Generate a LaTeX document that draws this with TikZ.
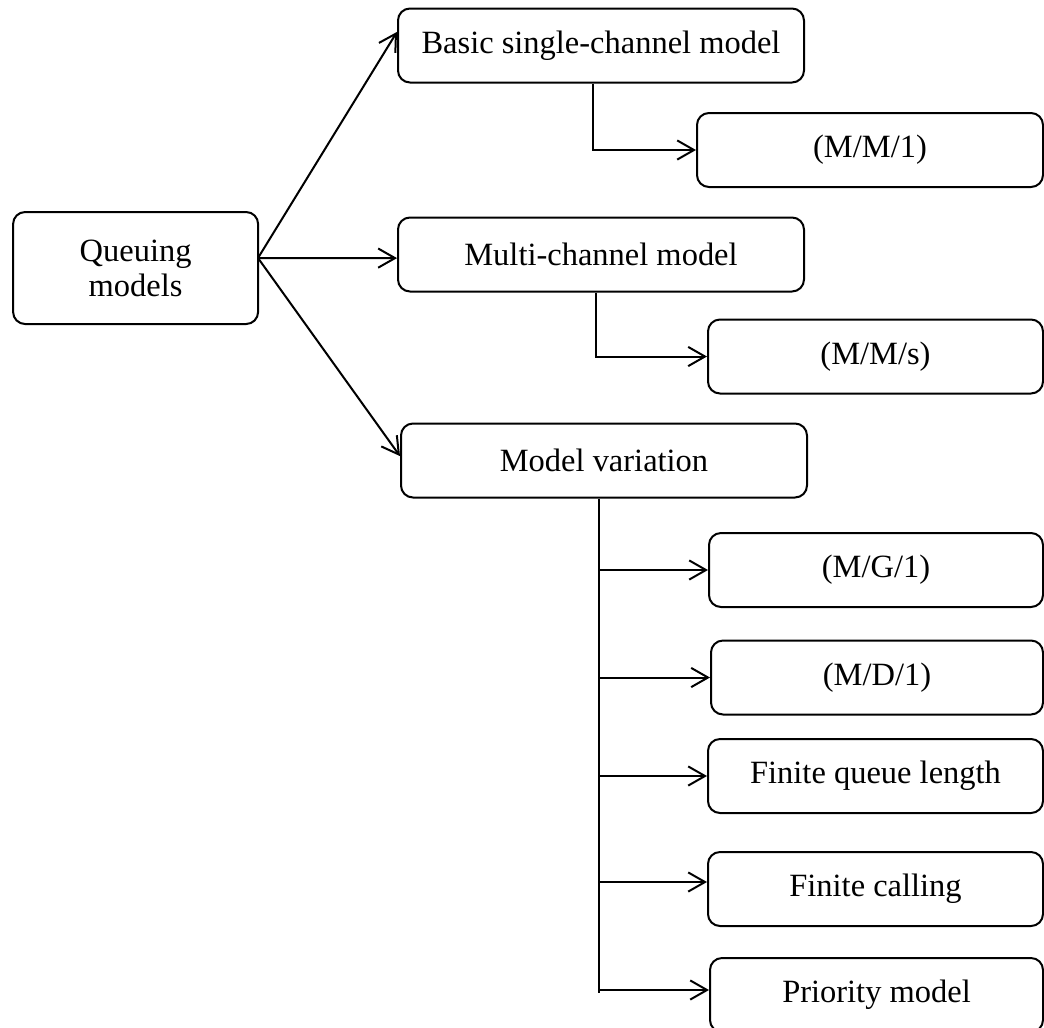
\documentclass[tikz,border=0pt]{standalone}
\usepackage{fontspec}
\setmainfont{Liberation Serif}
\usetikzlibrary{arrows.meta}

\begin{document}
\begin{tikzpicture}[
		box/.style={draw, line width=0.05cm, rounded corners=0.3cm, minimum height=1.85cm, inner sep=0pt, align=center, font=\fontsize{23.1}{25}\selectfont},
		link/.style={line width=0.05cm},
		arr/.style={link, -{Straight Barb[length=0.42cm, width=0.48cm]}}
	]
		%%%%% START %%%%%
		\useasboundingbox (0, 0) rectangle (26.1, -25.675);
		
		\node[box, minimum width=6.125cm, minimum height=2.8cm] (qm) at (3.39, -6.7) {Queuing\\models};
		\coordinate (qm-out) at (6.45, -6.45);
		
		\node[box, minimum width=10.15cm] (basic) at (15.025, -1.1375) {Basic single-channel model};
		\node[box, minimum width=10.15cm] (multi) at (15.025, -6.3625) {Multi-channel model};
		\node[box, minimum width=10.15cm] (mv) at (15.1, -11.5125) {Model variation};
		
		\draw[arr] (qm-out) -- ([yshift=0.34cm]basic.west);
		\draw[arr] (qm-out) -- ([yshift=-0.09cm]multi.west);
		\draw[arr] (qm-out) -- ([yshift=0.11cm]mv.west);
		
		\node[box, minimum width=8.65cm] (mm1) at (21.75, -3.75) {(M/M/1)};
		\node[box, minimum width=8.375cm] (mms) at (21.8875, -8.9125) {(M/M/s)};
		
		\draw[arr] ([xshift=-0.2cm]basic.south) |- (mm1.west);
		\draw[arr] ([xshift=-0.125cm]multi.south) |- (mms.west);
		
		\node[box, minimum width=8.35cm] (mg1) at (21.9, -14.25) {(M/G/1)};
		\node[box, minimum width=8.3cm] (md1) at (21.925, -16.9375) {(M/D/1)};
		\node[box, minimum width=8.375cm] (fql) at (21.8875, -19.4) {Finite queue length};
		\node[box, minimum width=8.375cm] (fcp) at (21.8875, -22.225) {Finite calling};
		\node[box, minimum width=8.325cm] (prio) at (21.9125, -24.875) {Priority model};
		
		\draw[link] ([xshift=-0.125cm]mv.south) -- ++(0, -12.35) coordinate (mv-end);
		\foreach \x in {mg1, md1, fql}
			\draw[arr] (mv-end |- \x.west) -- (\x.west);
		\draw[arr] (mv-end |- fcp.west) ++(0, 0.175) -- ([yshift=0.175cm]fcp.west);
		\draw[arr] (mv-end |- prio.west) ++(0, 0.125) -- ([yshift=0.125cm]prio.west);
		
		%%%%% END %%%%%
	\end{tikzpicture}
\end{document}
